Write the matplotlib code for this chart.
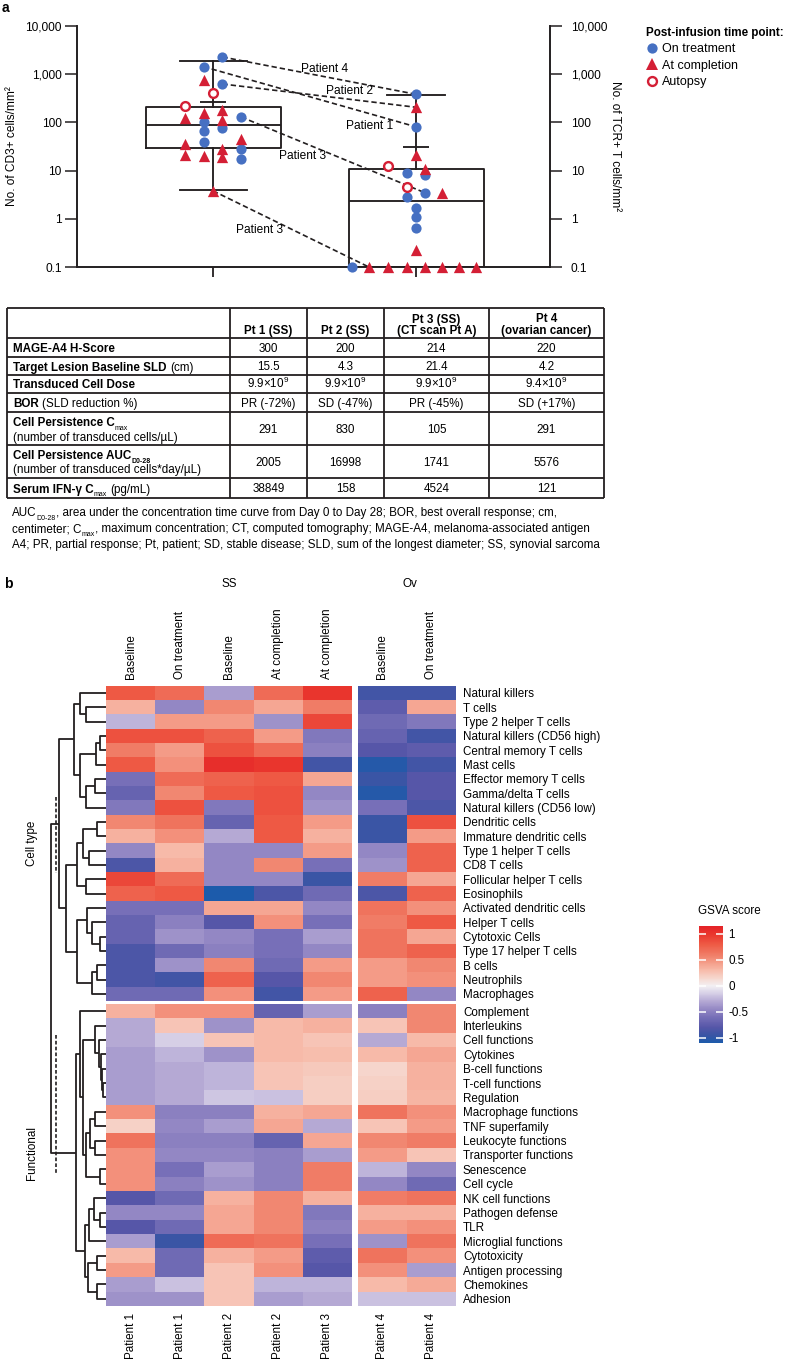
import numpy as np
import matplotlib
matplotlib.use("Agg")
import matplotlib.pyplot as plt
from matplotlib import font_manager
from matplotlib.colors import LinearSegmentedColormap, Normalize
from matplotlib.cm import ScalarMappable
from matplotlib.lines import Line2D

# ---------------- panel a data (cells / mm2) ----------------
cd3_on = [2275, 1430, 626, 129, 100, 66, 77, 39, 28, 17.4]
cd3_on_slot = [0.5, -0.5, 0.5, 1.5, -0.5, -0.5, 0.5, -0.5, 1.5, 1.5]
cd3_done = [760, 123, 157, 181, 112, 36, 21, 20, 28, 19, 45, 3.8]
cd3_done_slot = [-0.5, -1.5, -0.5, 0.5, 0.5, -1.5, -1.5, -0.5, 0.5, 0.5, 1.5, 0]
cd3_autopsy = [218, 409]
cd3_autopsy_slot = [-1.5, 0]

tcr_on = [383, 81, 9.0, 8.1, 3.5, 2.8, 1.65, 1.1, 0.64, 0.1]
tcr_on_slot = [0, 0, -0.5, 0.45, 0.45, -0.5, 0, 0, 0, -3.4]
tcr_done = [206, 21, 11, 3.5, 0.225, 0.1, 0.1, 0.1, 0.1, 0.1, 0.1, 0.1]
tcr_done_slot = [0, 0, 0.45, 1.4, 0, -2.5, -1.5, -0.5, 0.45, 1.4, 2.3, 3.2]
tcr_autopsy = [12.4, 4.6]
tcr_autopsy_slot = [-1.5, -0.5]

# q1, median, q3, lower whisker, upper whisker, inner cap
cd3_box = [30, 90, 210, 3.9, 1850, 270]
tcr_box = [0.1, 2.3, 10.6, 0.1, 375, 31]

# patient label, start point, end point (series name, index)
patient_links = [
    ("Patient 4", ("cd3_on", 0), ("tcr_on", 0)),
    ("Patient 1", ("cd3_on", 1), ("tcr_on", 1)),
    ("Patient 2", ("cd3_on", 2), ("tcr_done", 0)),
    ("Patient 3", ("cd3_on", 3), ("tcr_on", 4)),
    ("Patient 3", ("cd3_done", 11), ("tcr_done", 5)),
]
link_label_pos = [(1.55, 1282), (1.77, 84), (1.675, 448), (1.44, 20), (1.23, 0.58)]

y_ticks = [0.1, 1, 10, 100, 1000, 10000]
y_ticklabels = ["0.1", "1", "10", "100", "1,000", "10,000"]

# ---------------- table data ----------------
table_cols = [["Pt 1 (SS)"], ["Pt 2 (SS)"], ["Pt 3 (SS)", "(CT scan Pt A)"],
              ["Pt 4", "(ovarian cancer)"]]
table_labels = [
    [[("MAGE-A4 H-Score", "b", 0)]],
    [[("Target Lesion Baseline SLD", "b", 0), ("(cm)", "r", 2.5)]],
    [[("Transduced Cell Dose", "b", 0)]],
    [[("BOR", "b", 0), ("(SLD reduction %)", "r", 2.5)]],
    [[("Cell Persistence C", "b", 0), ("max", "sub", 0)],
     [("(number of transduced cells/µL)", "r", 0)]],
    [[("Cell Persistence AUC", "b", 0), ("D0-28", "subb", 0)],
     [("(number of transduced cells*day/µL)", "r", 0)]],
    [[("Serum IFN-γ C", "b", 0), ("max", "sub", 0), ("(pg/mL)", "r", 2.5)]],
]
table_values = [
    ["300", "200", "214", "220"],
    ["15.5", "4.3", "21.4", "4.2"],
    ["9.9×10$^{9}$", "9.9×10$^{9}$", "9.9×10$^{9}$", "9.4×10$^{9}$"],
    ["PR (-72%)", "SD (-47%)", "PR (-45%)", "SD (+17%)"],
    ["291", "830", "105", "291"],
    ["2005", "16998", "1741", "5576"],
    ["38849", "158", "4524", "121"],
]
footnote = [
    [("AUC", "r", 0), ("D0-28", "sub", 0),
     (", area under the concentration time curve from Day 0 to Day 28; BOR, best overall response; cm,", "r", 0)],
    [("centimeter; C", "r", 0), ("max", "sub", 0),
     (", maximum concentration; CT, computed tomography; MAGE-A4, melanoma-associated antigen", "r", 0)],
    [("A4; PR, partial response; Pt, patient; SD, stable disease; SLD, sum of the longest diameter; SS, synovial sarcoma", "r", 0)],
]

# ---------------- panel b data (GSVA scores) ----------------
col_groups = ["SS", "Ov"]
col_states = ["Baseline", "On treatment", "Baseline", "At completion", "At completion",
              "Baseline", "On treatment"]
col_patients = ["Patient 1", "Patient 1", "Patient 2", "Patient 2", "Patient 3",
                "Patient 4", "Patient 4"]
cell_types = ["Natural killers", "T cells", "Type 2 helper T cells", "Natural killers (CD56 high)",
              "Central memory T cells", "Mast cells", "Effector memory T cells",
              "Gamma/delta T cells", "Natural killers (CD56 low)", "Dendritic cells",
              "Immature dendritic cells", "Type 1 helper T cells", "CD8 T cells",
              "Follicular helper T cells", "Eosinophils", "Activated dendritic cells",
              "Helper T cells", "Cytotoxic Cells", "Type 17 helper T cells", "B cells",
              "Neutrophils", "Macrophages"]
functions = ["Complement", "Interleukins", "Cell functions", "Cytokines", "B-cell functions",
             "T-cell functions", "Regulation", "Macrophage functions", "TNF superfamily",
             "Leukocyte functions", "Transporter functions", "Senescence", "Cell cycle",
             "NK cell functions", "Pathogen defense", "TLR", "Microglial functions",
             "Cytotoxicity", "Antigen processing", "Chemokines", "Adhesion"]
celltype_scores = [
    [0.8, 0.7, -0.35, 0.7, 1.0, -0.9, -0.9],
    [0.35, -0.45, 0.55, 0.4, 0.6, -0.75, 0.4],
    [-0.25, 0.45, 0.45, -0.4, 0.9, -0.65, -0.55],
    [0.85, 0.85, 0.75, 0.45, -0.55, -0.7, -0.9],
    [0.6, 0.45, 0.85, 0.7, -0.5, -0.8, -0.75],
    [0.8, 0.5, 1.05, 1.0, -0.9, -1.05, -0.9],
    [-0.6, 0.7, 0.75, 0.8, 0.4, -0.95, -0.8],
    [-0.7, 0.55, 0.8, 0.85, -0.45, -1.05, -0.8],
    [-0.55, 0.85, -0.55, 0.85, -0.4, -0.6, -0.85],
    [0.55, 0.65, -0.7, 0.8, 0.45, -0.95, 0.85],
    [0.35, 0.5, -0.3, 0.8, 0.35, -0.95, 0.45],
    [-0.45, 0.3, -0.45, -0.45, 0.45, -0.45, 0.75],
    [-0.85, 0.35, -0.45, 0.55, -0.6, -0.4, 0.75],
    [0.9, 0.7, -0.45, -0.45, -0.95, 0.6, 0.4],
    [0.75, 0.8, -1.1, -0.85, -0.65, -0.85, 0.75],
    [-0.6, -0.6, 0.4, 0.4, -0.45, 0.65, 0.5],
    [-0.7, -0.5, -0.8, 0.5, -0.6, 0.6, 0.8],
    [-0.7, -0.4, -0.45, -0.6, -0.35, 0.65, 0.4],
    [-0.85, -0.65, -0.5, -0.6, -0.45, 0.65, 0.75],
    [-0.85, -0.4, 0.55, -0.65, 0.45, 0.45, 0.55],
    [-0.85, -0.9, 0.75, -0.8, 0.55, 0.45, 0.5],
    [-0.65, -0.65, 0.5, -0.9, 0.45, 0.75, -0.45],
]
functional_scores = [
    [0.35, 0.5, 0.5, -0.7, -0.35, -0.5, 0.55],
    [-0.3, 0.25, -0.4, 0.3, 0.35, 0.25, 0.55],
    [-0.3, -0.15, 0.25, 0.3, 0.25, -0.3, 0.3],
    [-0.35, -0.25, -0.4, 0.3, 0.28, 0.3, 0.4],
    [-0.35, -0.3, -0.25, 0.25, 0.22, 0.15, 0.35],
    [-0.35, -0.3, -0.25, 0.25, 0.2, 0.18, 0.35],
    [-0.35, -0.3, -0.18, -0.2, 0.2, 0.2, 0.33],
    [0.5, -0.5, -0.5, 0.35, 0.4, 0.65, 0.5],
    [0.18, -0.45, -0.35, 0.4, -0.3, 0.25, 0.45],
    [0.65, -0.5, -0.5, -0.7, 0.4, 0.55, 0.6],
    [0.5, -0.45, -0.45, -0.5, -0.35, 0.45, 0.25],
    [0.5, -0.6, -0.35, -0.5, 0.6, -0.25, -0.45],
    [0.5, -0.5, -0.4, -0.5, 0.6, -0.45, -0.65],
    [-0.8, -0.65, 0.35, 0.55, 0.35, 0.6, 0.65],
    [-0.45, -0.45, 0.4, 0.55, -0.55, 0.35, 0.35],
    [-0.8, -0.65, 0.4, 0.55, -0.5, 0.45, 0.5],
    [-0.35, -0.95, 0.7, 0.65, -0.6, -0.4, 0.65],
    [0.3, -0.65, 0.35, 0.45, -0.75, 0.65, 0.5],
    [0.45, -0.65, 0.25, 0.5, -0.8, 0.5, -0.35],
    [-0.35, -0.2, 0.25, -0.25, -0.25, 0.3, 0.38],
    [-0.4, -0.4, 0.25, -0.35, -0.3, -0.2, -0.2],
]
# row dendrogram merges: (child a, child b, height); leaves 0..42, new nodes from 43
row_merges = [
    (1, 2, 20), (0, 43, 26), (3, 4, 6), (45, 5, 10), (6, 7, 11), (47, 8, 20),
    (46, 48, 26), (44, 49, 32), (9, 10, 9), (11, 12, 17), (51, 52, 23), (13, 14, 20),
    (53, 54, 29), (17, 18, 6), (16, 56, 14), (15, 57, 19), (19, 20, 9), (59, 21, 14),
    (58, 60, 29), (55, 61, 40), (50, 62, 47),
    (27, 28, 3), (26, 64, 4), (25, 65, 5), (24, 66, 7), (23, 67, 11),
    (29, 30, 11), (31, 32, 11), (69, 70, 16), (33, 34, 6), (71, 72, 20), (68, 73, 23),
    (22, 74, 26), (36, 37, 6), (35, 76, 12), (77, 38, 17), (39, 40, 9), (41, 42, 9),
    (79, 80, 18), (78, 81, 21), (75, 82, 30), (63, 83, 55.3),
]

# ---------------- style ----------------
W, H = 787, 1359
ink = "#231f20"
blue = "#4670c2"
red = "#d41f35"
names = {f.name for f in font_manager.fontManager.ttflist}
NARROW = "Liberation Sans Narrow" if "Liberation Sans Narrow" in names else "Liberation Sans"
TFS = 10 if NARROW == "Liberation Sans Narrow" else 8.4
plt.rcParams["font.family"] = ["Liberation Sans", "DejaVu Sans"]
plt.rcParams["mathtext.fontset"] = "custom"
plt.rcParams["mathtext.rm"] = NARROW
plt.rcParams["mathtext.bf"] = NARROW + ":bold"
plt.rcParams["mathtext.it"] = NARROW + ":italic"
FS = 8.4


def box(l, t, r, b):
    return [l / W, 1 - b / H, (r - l) / W, (b - t) / H]


fig = plt.figure(figsize=(W / 100, H / 100), dpi=100)

# ================= panel a =================
ax = fig.add_axes(box(77, 26, 550, 267))
ax.set_yscale("log")
ax.set_ylim(0.1, 10000)
ax.set_xlim(0.33, 2.66)
step = 0.093
series = {
    "cd3_on": (1, cd3_on, cd3_on_slot), "cd3_done": (1, cd3_done, cd3_done_slot),
    "cd3_autopsy": (1, cd3_autopsy, cd3_autopsy_slot),
    "tcr_on": (2, tcr_on, tcr_on_slot), "tcr_done": (2, tcr_done, tcr_done_slot),
    "tcr_autopsy": (2, tcr_autopsy, tcr_autopsy_slot),
}


def pos(name):
    c, vals, slots = series[name]
    return [c + s * step for s in slots], vals


lp = dict(color=ink, lw=1.35)
stats = [dict(q1=b[0], med=b[1], q3=b[2], whislo=b[3], whishi=b[4], fliers=[])
         for b in (cd3_box, tcr_box)]
ax.bxp(stats, positions=[1, 2], widths=0.665, capwidths=[0.33, 0.29], showfliers=False,
       boxprops=lp, whiskerprops=lp, capprops=lp, medianprops=lp, manage_ticks=False, zorder=1)
ax.hlines([cd3_box[5], tcr_box[5]], [1 - 0.065, 2 - 0.065], [1 + 0.065, 2 + 0.065], **lp)

for (lab, a, b), (lx, ly) in zip(patient_links, link_label_pos):
    xa, ya = pos(a[0])
    xb, yb = pos(b[0])
    ax.plot([xa[a[1]], xb[b[1]]], [ya[a[1]], yb[b[1]]], ls=(0, (3.2, 1.8)), lw=1.2,
            color=ink, zorder=2)
    ax.text(lx, ly, lab, fontsize=FS + 0.2, ha="center", va="center", zorder=4)

for g in ("cd3", "tcr"):
    x, y = pos(g + "_on")
    ax.scatter(x, y, s=54, marker="o", color=blue, lw=0, zorder=3, clip_on=False)
    x, y = pos(g + "_done")
    ax.scatter(x, y, s=66, marker="^", color=red, lw=0, zorder=3, clip_on=False)
    x, y = pos(g + "_autopsy")
    ax.scatter(x, y, s=40, marker="o", facecolor="white", edgecolor=red, lw=1.7,
               zorder=3, clip_on=False)

ax2 = ax.twinx()
ax2.set_yscale("log")
ax2.set_ylim(0.1, 10000)
for a_ in (ax, ax2):
    a_.set_yticks(y_ticks)
    a_.set_yticklabels(y_ticklabels)
    a_.minorticks_off()
    a_.spines["top"].set_visible(False)
ax.spines["right"].set_visible(False)
for s in ("left", "bottom"):
    ax2.spines[s].set_visible(False)
    ax.spines[s].set_linewidth(1.4)
    ax.spines[s].set_color(ink)
ax2.spines["right"].set_linewidth(1.4)
ax2.spines["right"].set_color(ink)
ax.tick_params(axis="y", length=8.5, width=1.1, color=ink, labelsize=FS + 0.2, pad=2.5)
ax2.tick_params(axis="y", length=8.5, width=1.1, color=ink, labelsize=FS + 0.2, pad=6.5)
ax.set_xticks([1, 2])
ax.set_xticklabels(["", ""])
ax.tick_params(axis="x", length=7, width=1.3, color=ink)
ax.set_ylabel("No. of CD3+ cells/mm²", fontsize=FS + 0.2)
ax.yaxis.set_label_coords(-0.125, 0.5)
ax2.set_ylabel("No. of TCR+ T cells/mm²", fontsize=FS + 0.2, rotation=270, va="center")
ax2.yaxis.set_label_coords(1.137, 0.5)

handles = [Line2D([], [], ls="", marker="o", color=blue, markersize=7.4, mew=0),
           Line2D([], [], ls="", marker="^", color=red, markersize=8.2, mew=0),
           Line2D([], [], ls="", marker="o", mfc="white", mec=red, mew=1.7, markersize=6.4)]
fig.legend(handles, ["On treatment", "At completion", "Autopsy"], loc="upper left",
           bbox_to_anchor=(646 / W, 1 - 27 / H), frameon=False, fontsize=9,
           title="Post-infusion time point:", title_fontproperties={"weight": "bold", "size": 8.4},
           alignment="left", handletextpad=0.3, labelspacing=0.35, handlelength=1.0,
           borderpad=0, borderaxespad=0)

# ================= overlay for table & texts =================
tab = fig.add_axes([0, 0, 1, 1])
tab.set_xlim(0, W)
tab.set_ylim(H, 0)
tab.axis("off")


def rich(x, y, parts, size):
    prev = None
    for s, st, gap in parts:
        fs = size * 0.6 if st.startswith("sub") else size
        wt = "bold" if st in ("b", "subb") else "normal"
        dy = -2.6 if st.startswith("sub") else 0
        if prev is None:
            prev = tab.text(x, y, s, fontsize=fs, fontweight=wt, family=NARROW,
                            va="baseline", ha="left")
        else:
            prev = tab.annotate(s, xy=(1, y), xycoords=(prev, "data"), xytext=(gap, dy),
                                textcoords="offset points", fontsize=fs, fontweight=wt,
                                family=NARROW, va="baseline", ha="left")
    return prev


row_edges = [308, 338, 357, 375, 393, 412, 445, 478, 498]
col_edges = [7, 230, 307, 384, 489, 604]
tab.hlines(row_edges, col_edges[0], col_edges[-1], color=ink, lw=1.3)
tab.vlines(col_edges, row_edges[0], row_edges[-1], color=ink, lw=1.3)
for j, head in enumerate(table_cols):
    cx = (col_edges[j + 1] + col_edges[j + 2]) / 2
    for k, line in enumerate(head):
        yb = 334 - 11.5 * (len(head) - 1 - k)
        tab.text(cx, yb, line, fontsize=TFS, fontweight="bold", family=NARROW,
                 ha="center", va="baseline")
for i, (lab, vals) in enumerate(zip(table_labels, table_values)):
    top, bot = row_edges[i + 1], row_edges[i + 2]
    mid = (top + bot) / 2
    if len(lab) == 1:
        rich(13, mid + 4.5, lab[0], TFS)
    else:
        rich(13, mid - 2.5, lab[0], TFS)
        rich(13, mid + 12, lab[1], TFS)
    for j, v in enumerate(vals):
        cx = (col_edges[j + 1] + col_edges[j + 2]) / 2
        tab.text(cx, mid + 4.5, v, fontsize=TFS, family=NARROW, ha="center", va="baseline")
for k, line in enumerate(footnote):
    rich(12, 516 + 16 * k, line, TFS * 1.0)

tab.text(2, 8, "a", fontsize=10, fontweight="bold", va="center", ha="left")
tab.text(4, 584, "b", fontsize=10, fontweight="bold", va="center", ha="left")
tab.text(229, 584, col_groups[0], fontsize=FS, ha="center", va="center")
tab.text(410, 584, col_groups[1], fontsize=FS, ha="center", va="center")
tab.text(32, 843, "Cell type", fontsize=FS, rotation=90, ha="center", va="center")
tab.text(32, 1153, "Functional", fontsize=FS, rotation=90, ha="center", va="center")
tab.plot([56, 56], [797, 873], ls=(0, (2.2, 1.3)), lw=1.2, color=ink)
tab.plot([56, 56], [1035, 1173], ls=(0, (2.2, 1.3)), lw=1.2, color=ink)

# ================= panel b heatmap =================
cmap = LinearSegmentedColormap.from_list("gsva", [
    ((v + 1.1) / 2.25, c) for v, c in [
        (-1.1, "#1c5bab"), (-0.95, "#3a55a5"), (-0.8, "#5656a8"), (-0.6, "#7870b8"),
        (-0.45, "#9488c4"), (-0.3, "#b4a8d4"), (-0.15, "#d5cee6"), (0, "#f3f0f3"),
        (0.15, "#f6d6cd"), (0.3, "#f7bbaa"), (0.45, "#f49c88"), (0.6, "#f07c66"),
        (0.8, "#ee5a45"), (1.0, "#e9352d"), (1.15, "#e42228")]])
norm = Normalize(-1.1, 1.15)

ct = np.array(celltype_scores)
fn = np.array(functional_scores)
blocks = [
    (ct[:, :5], box(106, 685.7, 352, 1001)), (ct[:, 5:], box(357.7, 685.7, 456, 1001)),
    (fn[:, :5], box(106, 1004, 352, 1306)), (fn[:, 5:], box(357.7, 1004, 456, 1306)),
]
hax = []
for vals, rect in blocks:
    a_ = fig.add_axes(rect)
    a_.pcolormesh(vals, cmap=cmap, norm=norm, antialiased=False, linewidth=0)
    a_.set_ylim(vals.shape[0], 0)
    a_.set_xlim(0, vals.shape[1])
    for s in a_.spines.values():
        s.set_visible(False)
    a_.set_xticks([])
    a_.set_yticks([])
    hax.append(a_)

for k, (a_, cols) in enumerate([(hax[0], slice(0, 5)), (hax[1], slice(5, 7))]):
    n = len(col_states[cols])
    a_.xaxis.tick_top()
    a_.set_xticks(np.arange(n) + 0.5)
    a_.set_xticklabels(col_states[cols], rotation=90, fontsize=FS)
    a_.tick_params(axis="x", length=0, pad=5)
for a_, cols in [(hax[2], slice(0, 5)), (hax[3], slice(5, 7))]:
    n = len(col_patients[cols])
    a_.set_xticks(np.arange(n) + 0.5)
    a_.set_xticklabels(col_patients[cols], rotation=90, fontsize=FS)
    a_.tick_params(axis="x", length=0, pad=5)
for a_, labs in [(hax[1], cell_types), (hax[3], functions)]:
    a_.yaxis.tick_right()
    a_.set_yticks(np.arange(len(labs)) + 0.5)
    a_.set_yticklabels(labs, fontsize=FS)
    a_.tick_params(axis="y", length=0, pad=5)

# dendrogram
dax = fig.add_axes(box(50, 685.7, 106, 1306))
dax.set_xlim(56, 0)
dax.set_ylim(1306, 685.7)
dax.axis("off")
n_ct, n_fn = len(cell_types), len(functions)
rh1 = (1001 - 685.7) / n_ct
rh2 = (1306 - 1004) / n_fn
node_y = [685.7 + (i + 0.5) * rh1 for i in range(n_ct)] + \
         [1004 + (i + 0.5) * rh2 for i in range(n_fn)]
node_h = [0.0] * (n_ct + n_fn)
for a, b, h in row_merges:
    dax.plot([node_h[a], h, h, node_h[b]], [node_y[a], node_y[a], node_y[b], node_y[b]],
             color=ink, lw=1.3, clip_on=False, solid_capstyle="butt")
    node_y.append((node_y[a] + node_y[b]) / 2)
    node_h.append(h)

# colorbar
cax = fig.add_axes(box(699, 926, 723, 1043))
cb = fig.colorbar(ScalarMappable(norm=norm, cmap=cmap), cax=cax, ticks=[-1, -0.5, 0, 0.5, 1])
cb.outline.set_visible(False)
cb.ax.set_yticklabels(["-1", "-0.5", "0", "0.5", "1"])
cb.ax.minorticks_off()
cb.ax.tick_params(axis="y", direction="in", color="white", length=5, width=1.1,
                  left=True, right=True, labelsize=FS, pad=4)
tab.text(698, 911, "GSVA score", fontsize=FS, ha="left", va="center")

fig.savefig("out.png", dpi=100)
